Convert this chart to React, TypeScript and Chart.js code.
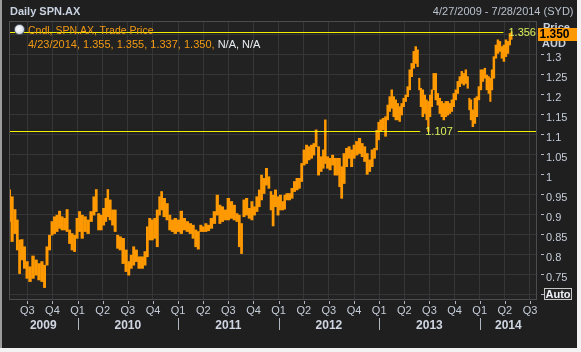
import React, { useEffect, useRef } from 'react';
import { Chart, registerables } from 'chart.js';

Chart.register(...registerables);

// ---- data (decimal-year sample times, high / low of the candles around each time) ----
const sampleTimes = [
  2009.323, 2009.348, 2009.377, 2009.402, 2009.422, 2009.447, 2009.472, 2009.497, 2009.527, 2009.557,
  2009.587, 2009.617, 2009.647, 2009.671, 2009.696, 2009.721, 2009.746, 2009.771, 2009.796, 2009.821,
  2009.846, 2009.871, 2009.896, 2009.921, 2009.946, 2009.970, 2009.995, 2010.020, 2010.045, 2010.075,
  2010.105, 2010.135, 2010.165, 2010.185, 2010.210, 2010.235, 2010.259, 2010.284, 2010.299, 2010.324,
  2010.349, 2010.374, 2010.399, 2010.424, 2010.454, 2010.484, 2010.509, 2010.534, 2010.558, 2010.583,
  2010.613, 2010.643, 2010.673, 2010.693, 2010.718, 2010.743, 2010.768, 2010.793, 2010.818, 2010.833,
  2010.862, 2010.892, 2010.917, 2010.942, 2010.972, 2011.002, 2011.032, 2011.062, 2011.092, 2011.122,
  2011.151, 2011.176, 2011.201, 2011.226, 2011.251, 2011.276, 2011.301, 2011.331, 2011.361, 2011.391,
  2011.416, 2011.440, 2011.470, 2011.500, 2011.530, 2011.560, 2011.585, 2011.610, 2011.630, 2011.655,
  2011.680, 2011.710, 2011.734, 2011.759, 2011.784, 2011.809, 2011.829, 2011.854, 2011.879, 2011.904,
  2011.924, 2011.944, 2011.969, 2011.994, 2012.018, 2012.043, 2012.058, 2012.083, 2012.108, 2012.133,
  2012.158, 2012.183, 2012.208, 2012.228, 2012.253, 2012.278, 2012.303, 2012.327, 2012.352, 2012.372,
  2012.397, 2012.422, 2012.447, 2012.462, 2012.487, 2012.512, 2012.537, 2012.562, 2012.587, 2012.606,
  2012.626, 2012.651, 2012.676, 2012.701, 2012.726, 2012.751, 2012.776, 2012.806, 2012.831, 2012.856,
  2012.881, 2012.905, 2012.930, 2012.955, 2012.975, 2012.995, 2013.015, 2013.040, 2013.065, 2013.085,
  2013.105, 2013.125, 2013.145, 2013.165, 2013.185, 2013.204, 2013.224, 2013.244, 2013.264, 2013.284,
  2013.304, 2013.324, 2013.344, 2013.364, 2013.384, 2013.399, 2013.414, 2013.434, 2013.454, 2013.473,
  2013.488, 2013.508, 2013.523, 2013.543, 2013.563, 2013.583, 2013.603, 2013.623, 2013.643, 2013.663,
  2013.683, 2013.703, 2013.723, 2013.742, 2013.762, 2013.782, 2013.802, 2013.822, 2013.842, 2013.862,
  2013.882, 2013.897, 2013.912, 2013.932, 2013.952, 2013.972, 2013.992, 2014.012, 2014.032, 2014.051,
  2014.071, 2014.091, 2014.106, 2014.121, 2014.141, 2014.161, 2014.181, 2014.201, 2014.221, 2014.241,
  2014.261, 2014.281, 2014.301, 2014.316,
];

const highs = [
  0.961, 0.944, 0.912, 0.886, 0.836, 0.837, 0.819, 0.782, 0.769, 0.796,
  0.786, 0.777, 0.782, 0.773, 0.819, 0.848, 0.882, 0.894, 0.898, 0.908,
  0.894, 0.890, 0.912, 0.861, 0.852, 0.848, 0.890, 0.907, 0.898, 0.894,
  0.886, 0.907, 0.944, 0.962, 0.902, 0.898, 0.915, 0.940, 0.962, 0.936,
  0.911, 0.911, 0.848, 0.844, 0.840, 0.811, 0.782, 0.798, 0.819, 0.811,
  0.794, 0.794, 0.807, 0.869, 0.890, 0.886, 0.890, 0.911, 0.944, 0.957,
  0.940, 0.927, 0.898, 0.886, 0.890, 0.886, 0.908, 0.890, 0.882, 0.877,
  0.873, 0.861, 0.857, 0.873, 0.869, 0.877, 0.873, 0.890, 0.907, 0.948,
  0.923, 0.919, 0.911, 0.940, 0.932, 0.923, 0.902, 0.898, 0.877, 0.936,
  0.940, 0.915, 0.932, 0.919, 0.944, 0.961, 0.998, 0.990, 1.015, 0.994,
  0.957, 0.948, 0.961, 0.944, 0.948, 0.932, 0.948, 0.952, 0.952, 0.965,
  0.982, 0.990, 0.990, 1.027, 1.061, 1.073, 1.069, 1.073, 1.077, 1.111,
  1.069, 1.044, 1.061, 1.136, 1.044, 1.040, 1.048, 1.040, 1.040, 1.040,
  1.019, 1.052, 1.065, 1.069, 1.061, 1.073, 1.082, 1.090, 1.077, 1.069,
  1.052, 1.036, 1.061, 1.065, 1.110, 1.130, 1.136, 1.140, 1.144, 1.173,
  1.194, 1.211, 1.194, 1.186, 1.177, 1.169, 1.177, 1.190, 1.198, 1.219,
  1.261, 1.277, 1.307, 1.319, 1.311, 1.240, 1.215, 1.211, 1.198, 1.186,
  1.182, 1.198, 1.211, 1.252, 1.252, 1.202, 1.190, 1.182, 1.177, 1.182,
  1.182, 1.177, 1.186, 1.202, 1.211, 1.232, 1.244, 1.257, 1.252, 1.261,
  1.244, 1.190, 1.186, 1.161, 1.190, 1.194, 1.219, 1.261, 1.261, 1.265,
  1.248, 1.244, 1.240, 1.261, 1.294, 1.323, 1.336, 1.332, 1.319, 1.323,
  1.336, 1.332, 1.352, 1.356,
];

const lows = [
  0.882, 0.832, 0.852, 0.811, 0.752, 0.786, 0.765, 0.740, 0.732, 0.740,
  0.748, 0.736, 0.732, 0.717, 0.773, 0.811, 0.848, 0.852, 0.857, 0.865,
  0.861, 0.861, 0.857, 0.827, 0.811, 0.807, 0.840, 0.857, 0.840, 0.857,
  0.852, 0.882, 0.898, 0.907, 0.861, 0.861, 0.873, 0.882, 0.894, 0.886,
  0.873, 0.857, 0.815, 0.811, 0.777, 0.757, 0.748, 0.765, 0.773, 0.782,
  0.765, 0.765, 0.773, 0.794, 0.836, 0.836, 0.840, 0.819, 0.898, 0.911,
  0.894, 0.886, 0.861, 0.857, 0.852, 0.857, 0.852, 0.861, 0.857, 0.852,
  0.840, 0.819, 0.813, 0.857, 0.857, 0.857, 0.859, 0.865, 0.877, 0.898,
  0.877, 0.882, 0.886, 0.886, 0.890, 0.886, 0.882, 0.819, 0.802, 0.894,
  0.898, 0.890, 0.886, 0.898, 0.907, 0.919, 0.936, 0.952, 0.973, 0.965,
  0.911, 0.871, 0.919, 0.898, 0.911, 0.911, 0.913, 0.936, 0.936, 0.940,
  0.957, 0.961, 0.965, 0.982, 1.023, 1.027, 1.036, 1.040, 1.048, 1.069,
  0.998, 1.007, 1.015, 1.027, 1.015, 1.011, 1.023, 0.998, 0.998, 0.969,
  0.940, 0.977, 1.019, 1.040, 1.019, 1.040, 1.048, 1.052, 1.044, 1.032,
  1.000, 1.007, 1.019, 1.040, 1.061, 1.086, 1.108, 1.111, 1.095, 1.136,
  1.157, 1.165, 1.144, 1.136, 1.136, 1.132, 1.148, 1.169, 1.182, 1.194,
  1.211, 1.244, 1.265, 1.277, 1.269, 1.211, 1.169, 1.144, 1.152, 1.136,
  1.107, 1.144, 1.169, 1.211, 1.186, 1.173, 1.152, 1.144, 1.136, 1.144,
  1.148, 1.152, 1.157, 1.169, 1.186, 1.202, 1.219, 1.227, 1.223, 1.227,
  1.215, 1.161, 1.136, 1.119, 1.127, 1.144, 1.186, 1.211, 1.232, 1.240,
  1.211, 1.202, 1.182, 1.211, 1.240, 1.290, 1.302, 1.307, 1.290, 1.282,
  1.294, 1.302, 1.323, 1.337,
];

const axisStart = 2009.318; // 4/27/2009
const axisEnd = 2014.57; // 7/28/2014
const quarterTicks = [
  2009.5, 2009.75, 2010.0, 2010.25, 2010.5, 2010.75, 2011.0, 2011.25, 2011.5, 2011.75,
  2012.0, 2012.25, 2012.5, 2012.75, 2013.0, 2013.25, 2013.5, 2013.75, 2014.0, 2014.25, 2014.5,
];
const quarterLabels = [
  'Q3', 'Q4', 'Q1', 'Q2', 'Q3', 'Q4', 'Q1', 'Q2', 'Q3', 'Q4',
  'Q1', 'Q2', 'Q3', 'Q4', 'Q1', 'Q2', 'Q3', 'Q4', 'Q1', 'Q2', 'Q3',
];
const yearStarts = [2009, 2010, 2011, 2012, 2013, 2014];
const yearLabels = ['2009', '2010', '2011', '2012', '2013', '2014'];
const priceTicks = [0.7, 0.75, 0.8, 0.85, 0.9, 0.95, 1.0, 1.05, 1.1, 1.15, 1.2, 1.25, 1.3, 1.35];
const priceLabels = ['', '0.75', '0.8', '0.85', '0.9', '0.95', '1', '1.05', '1.1', '1.15', '1.2', '1.25', '1.3', ''];
const priceMin = 0.686;
const priceMax = 1.383;
const highMarker = 1.356;
const lowMarker = 1.107;
const lowMarkerTime = 2013.488;
const lastQuoteText = '4/23/2014, 1.355, 1.355, 1.337, 1.350,';
const lastClose = '1.350';

// ---- styles ----
const FONT = '"Liberation Sans", Arial, sans-serif';
const PANEL_BG = '#1f1f1f';
const PLOT_BG = '#222222';
const GRID = '#363636';
const CANDLE = '#ff9900';
const AXIS_TEXT = '#c5cdd9';
const TICK = '#aeb6c2';
const MARK_LINE = '#f2f000';
const MARK_TEXT = '#d8f25a';

const decorPlugin = {
  id: 'decor',
  beforeDraw(chart: any) {
    const { ctx, chartArea: a } = chart;
    ctx.save();
    ctx.fillStyle = PLOT_BG;
    ctx.fillRect(a.left, a.top, a.right - a.left, a.bottom - a.top);
    ctx.restore();
  },
  afterDatasetsDraw(chart: any) {
    const { ctx, chartArea: a, scales } = chart;
    const xs = scales.x;
    const ys = scales.y;
    ctx.save();
    ctx.font = `11px ${FONT}`;
    ctx.textBaseline = 'middle';
    ctx.textAlign = 'left';
    const drawMarker = (value: number, labelLeft: number) => {
      const py = Math.round(ys.getPixelForValue(value)) + 0.5;
      const text = value.toFixed(3);
      const w = ctx.measureText(text).width;
      ctx.strokeStyle = MARK_LINE;
      ctx.lineWidth = 1;
      ctx.beginPath();
      ctx.moveTo(a.left, py);
      ctx.lineTo(labelLeft - 5, py);
      if (labelLeft + w + 5 < a.right) {
        ctx.moveTo(labelLeft + w + 5, py);
        ctx.lineTo(a.right, py);
      }
      ctx.stroke();
      ctx.fillStyle = MARK_TEXT;
      ctx.fillText(text, labelLeft, py + 0.5);
    };
    drawMarker(highMarker, xs.getPixelForValue(sampleTimes[sampleTimes.length - 1]) - 3);
    drawMarker(lowMarker, xs.getPixelForValue(lowMarkerTime) - 3);
    ctx.strokeStyle = '#4c4c4c';
    ctx.lineWidth = 1;
    ctx.strokeRect(a.left + 0.5, a.top + 0.5, a.right - a.left - 1, a.bottom - a.top - 1);
    ctx.restore();
  },
  afterDraw(chart: any) {
    const { ctx, chartArea: a, scales } = chart;
    const xs = scales.x;
    const ys = scales.y;
    ctx.save();
    ctx.strokeStyle = TICK;
    ctx.lineWidth = 1;
    ctx.beginPath();
    priceTicks.forEach((v) => {
      const py = Math.round(ys.getPixelForValue(v)) + 0.5;
      ctx.moveTo(a.right + 4, py);
      ctx.lineTo(a.right + 7, py);
    });
    quarterTicks.forEach((v) => {
      const px = Math.round(xs.getPixelForValue(v)) + 0.5;
      ctx.moveTo(px, a.bottom + 1);
      ctx.lineTo(px, a.bottom + 4);
    });
    yearStarts.forEach((v) => {
      if (v <= axisStart || v >= axisEnd) return;
      const px = Math.round(xs.getPixelForValue(v)) + 0.5;
      ctx.moveTo(px, a.bottom + 18);
      ctx.lineTo(px, a.bottom + 30);
    });
    ctx.stroke();
    ctx.restore();
  },
};

export default function App() {
  const canvasRef = useRef<HTMLCanvasElement | null>(null);

  useEffect(() => {
    document.body.style.margin = '0';
    const canvas = canvasRef.current;
    if (!canvas) return;
    const chart = new Chart(canvas, {
      type: 'bar',
      data: {
        datasets: [
          {
            data: sampleTimes.map((t, i) => ({ x: t, y: [lows[i], highs[i]] })) as any,
            backgroundColor: CANDLE,
            borderWidth: 0,
            barThickness: 'flex',
            barPercentage: 1,
            categoryPercentage: 0.92,
            xAxisID: 'x',
            yAxisID: 'y',
          } as any,
        ],
      },
      options: {
        responsive: false,
        animation: false,
        devicePixelRatio: 1,
        layout: { padding: { left: 9, top: 21, right: 0, bottom: 0 } },
        plugins: { legend: { display: false }, tooltip: { enabled: false }, title: { display: false } },
        scales: {
          x: {
            type: 'linear',
            position: 'bottom',
            offset: false,
            min: axisStart,
            max: axisEnd,
            afterBuildTicks: (s: any) => {
              s.ticks = quarterTicks.map((v) => ({ value: v }));
            },
            afterFit: (s: any) => {
              s.height = 18;
            },
            grid: { color: GRID, drawTicks: false, offset: false },
            border: { display: false },
            ticks: {
              autoSkip: false,
              maxRotation: 0,
              padding: 4,
              color: AXIS_TEXT,
              font: { family: FONT, size: 11 },
              callback: (_v: any, i: number) => quarterLabels[i],
            },
          },
          x2: {
            type: 'linear',
            position: 'bottom',
            weight: 1,
            offset: false,
            min: axisStart,
            max: axisEnd,
            afterBuildTicks: (s: any) => {
              s.ticks = yearStarts.map((y) => ({
                value: (Math.max(y, axisStart) + Math.min(y + 1, axisEnd)) / 2,
              }));
            },
            afterFit: (s: any) => {
              s.height = 34;
            },
            grid: { display: false, drawTicks: false, offset: false },
            border: { display: false },
            ticks: {
              autoSkip: false,
              maxRotation: 0,
              padding: 0,
              color: '#cfd6e2',
              font: { family: FONT, size: 12, weight: 'bold' },
              callback: (_v: any, i: number) => yearLabels[i],
            },
          },
          y: {
            type: 'linear',
            position: 'right',
            min: priceMin,
            max: priceMax,
            afterBuildTicks: (s: any) => {
              s.ticks = priceTicks.map((v) => ({ value: v }));
            },
            afterFit: (s: any) => {
              s.width = 44;
            },
            grid: { color: GRID, drawTicks: false },
            border: { display: false },
            ticks: {
              padding: 9,
              labelOffset: 3.5,
              color: AXIS_TEXT,
              font: { family: FONT, size: 11 },
              callback: (_v: any, i: number) => priceLabels[i],
            },
          },
        } as any,
      },
      plugins: [decorPlugin],
    });
    return () => chart.destroy();
  }, []);

  const abs = (s: React.CSSProperties): React.CSSProperties => ({ position: 'absolute', whiteSpace: 'nowrap', fontFamily: FONT, ...s });

  return (
    <div style={{ position: 'relative', width: 581, height: 352, background: '#f2f2f2', overflow: 'hidden' }}>
      <div style={abs({ left: 0, top: 0, width: 2, height: 348, background: '#9c9c9c' })} />
      <div style={abs({ left: 2, top: 0, width: 575, height: 348, background: PANEL_BG })} />
      <canvas ref={canvasRef} width={581} height={352} style={{ position: 'absolute', left: 0, top: 0, width: 581, height: 352 }} />
      <div style={abs({ left: 10, top: 5, fontSize: 11, lineHeight: '13px', fontWeight: 'bold', color: '#c8d2e0' })}>Daily SPN.AX</div>
      <div style={abs({ right: 7.5, top: 5, fontSize: 11, lineHeight: '13px', color: '#b9c2ce' })}>4/27/2009 - 7/28/2014 (SYD)</div>
      <div
        style={abs({
          left: 13.5,
          top: 23.5,
          width: 9,
          height: 9,
          borderRadius: '50%',
          border: '1px solid #56606c',
          background: 'radial-gradient(circle at 40% 40%, #ffffff 0%, #dfe5ee 55%, #9aa6b4 100%)',
        })}
      />
      <div style={abs({ left: 28, top: 23.5, fontSize: 10.5, lineHeight: '13px', color: '#f39a12' })}>Cndl, SPN.AX, Trade Price</div>
      <div style={abs({ left: 28, top: 37.5, fontSize: 11, lineHeight: '13px', color: '#f39a12' })}>
        {lastQuoteText} <span style={{ color: '#e8ecf2' }}>N/A, N/A</span>
      </div>
      <div style={abs({ left: 543, top: 20.5, fontSize: 11, lineHeight: '13px', fontWeight: 'bold', color: '#c8d0dc' })}>Price</div>
      <div style={abs({ left: 542, top: 37, fontSize: 11, lineHeight: '13px', fontWeight: 'bold', color: '#c8d0dc' })}>AUD</div>
      <div
        style={abs({
          left: 538,
          top: 28,
          width: 39,
          height: 13,
          background: CANDLE,
          color: '#000',
          fontSize: 12,
          fontWeight: 'bold',
          lineHeight: '13px',
          paddingLeft: 1.5,
          boxSizing: 'border-box',
        })}
      >
        {lastClose}
      </div>
      <div
        style={abs({
          left: 544,
          top: 288,
          width: 28,
          height: 12,
          border: '1px solid #c8c8c8',
          boxSizing: 'border-box',
          background: '#262626',
          color: '#eef2f8',
          fontSize: 11,
          fontWeight: 'bold',
          lineHeight: '10px',
          textAlign: 'center',
        })}
      >
        Auto
      </div>
    </div>
  );
}
